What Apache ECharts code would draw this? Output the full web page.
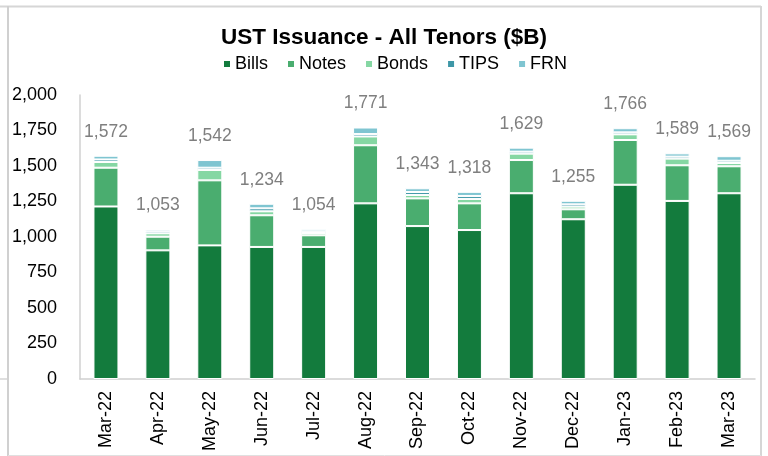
<!DOCTYPE html>
<html>
<head>
<meta charset="utf-8">
<script src="https://cdn.jsdelivr.net/npm/echarts@6/dist/echarts.min.js"></script>
<style>
  html, body { margin: 0; padding: 0; background: #fff; }
  #main { width: 768px; height: 456px; }
</style>
</head>
<body>
<div id="main"></div>
<script>
var months = ['Mar-22', 'Apr-22', 'May-22', 'Jun-22', 'Jul-22', 'Aug-22', 'Sep-22',
  'Oct-22', 'Nov-22', 'Dec-22', 'Jan-23', 'Feb-23', 'Mar-23'];
var bills = [1215, 906, 941, 930, 930, 1237, 1077, 1049, 1308, 1125, 1368, 1254, 1308];
var notes = [273, 96, 458, 223, 82, 409, 195, 188, 234, 70, 315, 251, 190];
var bonds = [40, 24, 73, 28, 16, 62, 24, 31, 45, 19, 40, 47, 23];
var tips = [18, 14, 16, 21, 12, 17, 21, 21, 14, 16, 14, 14, 16];
var frn = [26, 13, 54, 32, 14, 46, 26, 29, 28, 25, 29, 23, 32];
var totals = [1572, 1053, 1542, 1234, 1054, 1771, 1343, 1318, 1629, 1255, 1766, 1589, 1569];

var chartDom = document.getElementById('main');
var myChart = echarts.init(chartDom);
var font = 'Liberation Sans, Arial, sans-serif';

function fmt(v) {
  return v.toLocaleString('en-US');
}

function stackSeries(name, data, color) {
  return {
    name: name,
    type: 'bar',
    stack: 'total',
    barWidth: 25,
    data: data,
    itemStyle: { color: color, borderColor: '#fff', borderWidth: 1 }
  };
}

var series = [
  stackSeries('Bills', bills, '#137b3d'),
  stackSeries('Notes', notes, '#4aad6f'),
  stackSeries('Bonds', bonds, '#85d7a3'),
  stackSeries('TIPS', tips, '#3e97a7'),
  stackSeries('FRN', frn, '#7fc5d1')
];
// total label sits on the top segment
series[4].label = {
  show: true,
  position: 'top',
  distance: 15,
  color: '#7f7f7f',
  fontFamily: font,
  fontSize: 17.5,
  formatter: function (p) { return fmt(totals[p.dataIndex]); }
};

var option = {
  animation: false,
  textStyle: { fontFamily: font },
  title: {
    text: 'UST Issuance - All Tenors ($B)',
    left: 'center',
    top: 21,
    textStyle: { fontFamily: font, fontSize: 22.5, fontWeight: 'bold', color: '#000' }
  },
  legend: {
    data: ['Bills', 'Notes', 'Bonds', 'TIPS', 'FRN'],
    left: 217,
    top: 50,
    icon: 'rect',
    itemWidth: 8,
    itemHeight: 8,
    itemGap: 18,
    textStyle: { fontFamily: font, fontSize: 18, color: '#000', padding: [0, 0, 0, -1] }
  },
  grid: { left: 80, right: 13, top: 95, bottom: 77 },
  xAxis: {
    type: 'category',
    data: months,
    axisLine: { lineStyle: { color: '#d0d0d0', width: 1.5 } },
    axisTick: { show: false },
    axisLabel: { rotate: 90, margin: 12, fontFamily: font, fontSize: 18, color: '#000' }
  },
  yAxis: {
    type: 'value',
    min: 0,
    max: 2000,
    interval: 250,
    axisLine: { show: true, lineStyle: { color: '#d0d0d0', width: 1.5 } },
    axisTick: { show: false },
    splitLine: { show: false },
    axisLabel: { margin: 23, fontFamily: font, fontSize: 18, color: '#000', formatter: fmt }
  },
  graphic: [
    { type: 'line', shape: { x1: 0, y1: 6.5, x2: 761, y2: 6.5 }, style: { stroke: '#d6d6d6', lineWidth: 2 } },
    { type: 'line', shape: { x1: 8, y1: 6, x2: 8, y2: 456 }, style: { stroke: '#d0d0d0', lineWidth: 2 } },
    { type: 'line', shape: { x1: 761, y1: 6, x2: 761, y2: 456 }, style: { stroke: '#d6d6d6', lineWidth: 2 } },
    { type: 'line', shape: { x1: 8, y1: 455.5, x2: 761, y2: 455.5 }, style: { stroke: '#e0e0e0', lineWidth: 1 } },
    { type: 'line', shape: { x1: 0, y1: 379, x2: 7, y2: 379 }, style: { stroke: '#bfbfbf', lineWidth: 1 } }
  ],
  series: series
};
myChart.setOption(option);
</script>
</body>
</html>
